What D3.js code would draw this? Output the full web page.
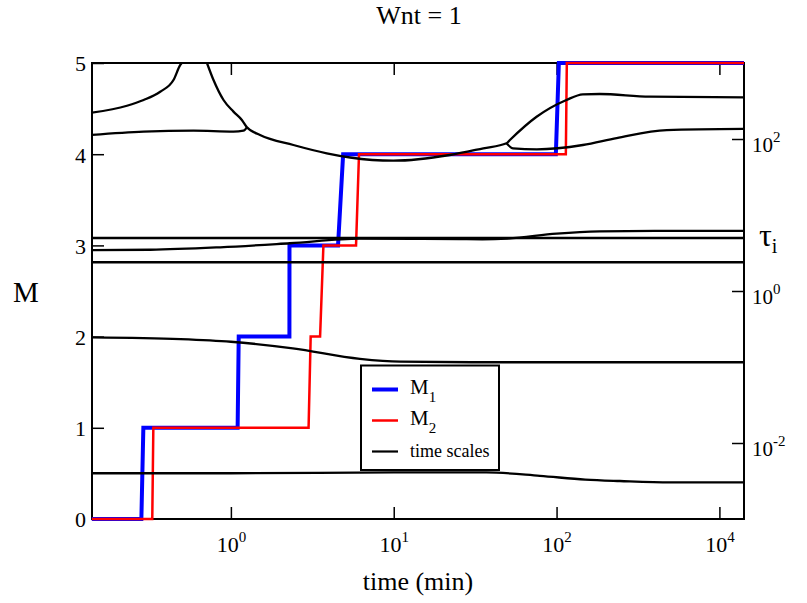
<!DOCTYPE html>
<html>
<head>
<meta charset="utf-8">
<script src="https://cdn.jsdelivr.net/npm/d3@7"></script>
<style>
  body { margin: 0; background: #fff; }
  svg { display: block; font-family: "Liberation Serif", Tinos, "Times New Roman", "DejaVu Serif", serif; }
</style>
</head>
<body>
<div id="chart"></div>
<script>
// time axis ticks (labels copied as printed)
var timeTicks = [1, 10, 100, 1000];
var timeExp = ["0", "1", "2", "4"];
var mTicks = [0, 1, 2, 3, 4, 5];
var tauTicks = [1e-2, 1, 1e2];
var tauExp = ["-2", "0", "2"];

// step curves: time (min) and M value
var m1Time = [0.14, 0.282, 0.290, 1.10, 1.117, 2.288, 2.29, 4.55, 4.89, 99.0, 103.3, 1416];
var m1Val  = [0,    0,     1,     1,    2,     2,     3,    3,    4,    4,    5,     5];
var m2Time = [0.14, 0.329, 0.334, 3.00, 3.09, 3.53, 3.70, 5.87, 6.12, 114, 115.6, 1416];
var m2Val  = [0,    0,     1,     1,    2,    2,    3,    3,    4,    4,   5,     5];

// time scales tau_i, [time, tau]
var tauBottom = [[0.14, 0.0040], [1, 0.0040], [10, 0.0041], [37, 0.0041], [79, 0.0037], [150, 0.0033], [245, 0.00316], [500, 0.00303], [1416, 0.00303]];
var tauLow = [[0.14, 0.246], [0.49, 0.233], [1, 0.215], [2.4, 0.176], [6.2, 0.128], [11, 0.1175], [30, 0.1155], [1416, 0.1155]];
var tauFlat1 = [[0.14, 2.39], [1416, 2.39]];
var tauFlat2 = [[0.14, 4.98], [1416, 4.98]];
var tauMid = [[0.14, 3.46], [0.32, 3.49], [0.86, 3.76], [2.3, 4.25], [6.2, 4.88], [15, 4.85], [35, 4.8], [50, 4.9], [100, 5.7], [184, 6.1], [400, 6.2], [1416, 6.2]];
var tauUpLeft = [[0.14, 222], [0.23, 274], [0.291, 326], [0.368, 419], [0.444, 597], [0.489, 942], [0.5, 1008]];
var tauUpper = [[0.713, 1000], [0.782, 597], [0.901, 326], [1.037, 229], [1.168, 178], [1.254, 142.6],
                [1.51, 113], [2.42, 83.4], [3.88, 64.8], [5.4, 57.1], [9.95, 51.8], [22.1, 61.6], [35.5, 75.5], [49.3, 87.8],
                [51.7, 97], [75.4, 196], [115, 326], [145, 387], [184, 391], [374, 360], [1416, 354]];
var tauCusp = [[0.14, 113], [0.291, 125], [0.59, 128.5], [1.037, 125], [1.195, 128.5], [1.254, 142.6]];
var tauBranch = [[49.3, 87.8], [54, 75.5], [75.7, 73.2], [145, 83.4], [234, 103], [475, 131], [1416, 135.5]];

var tauCurves = [tauBottom, tauLow, tauFlat1, tauFlat2, tauMid, tauUpLeft, tauUpper, tauCusp, tauBranch];

var svgWidth = 807, svgHeight = 603;
var margin = {top: 63, right: 63, bottom: 84, left: 92};
var width = svgWidth - margin.left - margin.right;
var height = svgHeight - margin.top - margin.bottom;

var svg = d3.select("#chart").append("svg")
    .attr("width", svgWidth)
    .attr("height", svgHeight);

var g = svg.append("g").attr("transform", `translate(${margin.left}, ${margin.top})`);

var x = d3.scaleLog().domain([0.1403, 1416]).range([0, width]);
var yM = d3.scaleLinear().domain([0, 5]).range([height, 0]);
var yTau = d3.scaleLog().domain([1e-3, 1e3]).range([height, 0]);

g.append("clipPath").attr("id", "plotclip")
  .append("rect").attr("width", width).attr("height", height);

// frame
g.append("rect")
    .attr("width", width).attr("height", height)
    .attr("fill", "none").attr("stroke", "#000").attr("stroke-width", 2);

function styleAxis(a, size) {
    a.select(".domain").remove();
    a.attr("font-family", null).attr("font-size", size);
    a.selectAll(".tick line").attr("stroke", "#000").attr("stroke-width", 1.5);
    a.selectAll(".tick text").attr("fill", "#000");
}

// bottom axis
var xAxis = g.append("g")
    .attr("transform", `translate(0, ${height})`)
    .call(d3.axisBottom(x).tickValues(timeTicks).tickSize(-12).tickPadding(17).tickFormat(""));
styleAxis(xAxis, 22);
xAxis.selectAll(".tick text").each(function(d, i) {
    var t = d3.select(this);
    t.append("tspan").text("10");
    t.append("tspan").attr("dy", -10).attr("font-size", 15).text(timeExp[i]);
});

// top axis
var topAxis = g.append("g")
    .call(d3.axisTop(x).tickValues(timeTicks).tickSize(-12).tickFormat(""));
styleAxis(topAxis, 10);

// left axis
var leftAxis = g.append("g")
    .call(d3.axisLeft(yM).tickValues(mTicks).tickSize(-12).tickPadding(6).tickFormat(d3.format("d")));
styleAxis(leftAxis, 22);
leftAxis.selectAll(".tick text").attr("dy", "0.36em");

// right axis
var rightAxis = g.append("g")
    .attr("transform", `translate(${width}, 0)`)
    .call(d3.axisRight(yTau).tickValues(tauTicks).tickSize(-12).tickPadding(8).tickFormat(""));
styleAxis(rightAxis, 21);
rightAxis.selectAll(".tick text").attr("dy", "0.6em").each(function(d, i) {
    var t = d3.select(this);
    t.append("tspan").text("10");
    t.append("tspan").attr("dy", -10).attr("font-size", 15).text(tauExp[i]);
});

// step lines
var stepLine = d3.line()
    .x(d => x(d[0]))
    .y(d => yM(d[1]));

g.append("path")
    .datum(d3.zip(m1Time, m1Val))
    .attr("d", stepLine)
    .attr("fill", "none")
    .attr("stroke", "#0000ff")
    .attr("stroke-width", 4);

g.append("path")
    .datum(d3.zip(m2Time, m2Val))
    .attr("d", stepLine)
    .attr("fill", "none")
    .attr("stroke", "#ff0000")
    .attr("stroke-width", 2.5);

// time scale curves
var tauLine = d3.line()
    .curve(d3.curveMonotoneX)
    .x(d => x(d[0]))
    .y(d => yTau(d[1]));

g.append("g")
    .attr("clip-path", "url(#plotclip)")
    .selectAll("path")
    .data(tauCurves)
    .enter()
    .append("path")
    .attr("d", tauLine)
    .attr("fill", "none")
    .attr("stroke", "#000")
    .attr("stroke-width", 2.3);

// legend
var legend = g.append("g").attr("transform", `translate(${361 - margin.left}, ${365.5 - margin.top})`);
legend.append("rect")
    .attr("width", 138).attr("height", 104.5)
    .attr("fill", "#fff").attr("stroke", "#000").attr("stroke-width", 2);

var legendItems = [
    {name: "M", sub: "1", color: "#0000ff", w: 4, y: 24},
    {name: "M", sub: "2", color: "#ff0000", w: 2.5, y: 55},
    {name: "time scales", sub: null, color: "#000", w: 2.2, y: 86}
];
legendItems.forEach(function(item) {
    legend.append("line")
        .attr("x1", 11).attr("x2", 37)
        .attr("y1", item.y).attr("y2", item.y)
        .attr("stroke", item.color).attr("stroke-width", item.w);
    var t = legend.append("text").attr("x", 49).attr("fill", "#000");
    if (item.sub) {
        t.attr("y", item.y + 4).attr("font-size", 21);
        t.append("tspan").text(item.name);
        t.append("tspan").attr("dy", 8).attr("font-size", 15).text(item.sub);
    } else {
        t.attr("y", item.y + 5).attr("font-size", 18).text(item.name);
    }
});

// title & axis labels
svg.append("text")
    .attr("x", 419).attr("y", 24)
    .attr("text-anchor", "middle")
    .attr("font-size", 26)
    .text("Wnt = 1");

svg.append("text")
    .attr("x", 26).attr("y", 301.5)
    .attr("text-anchor", "middle")
    .attr("font-size", 29)
    .text("M");

svg.append("text")
    .attr("x", 418).attr("y", 590)
    .attr("text-anchor", "middle")
    .attr("font-size", 26)
    .text("time (min)");

var tauLabel = svg.append("text")
    .attr("x", 759).attr("y", 246)
    .attr("font-size", 32);
tauLabel.append("tspan").text("τ");
tauLabel.append("tspan").attr("dy", 7).attr("font-size", 20).text("i");
</script>
</body>
</html>
